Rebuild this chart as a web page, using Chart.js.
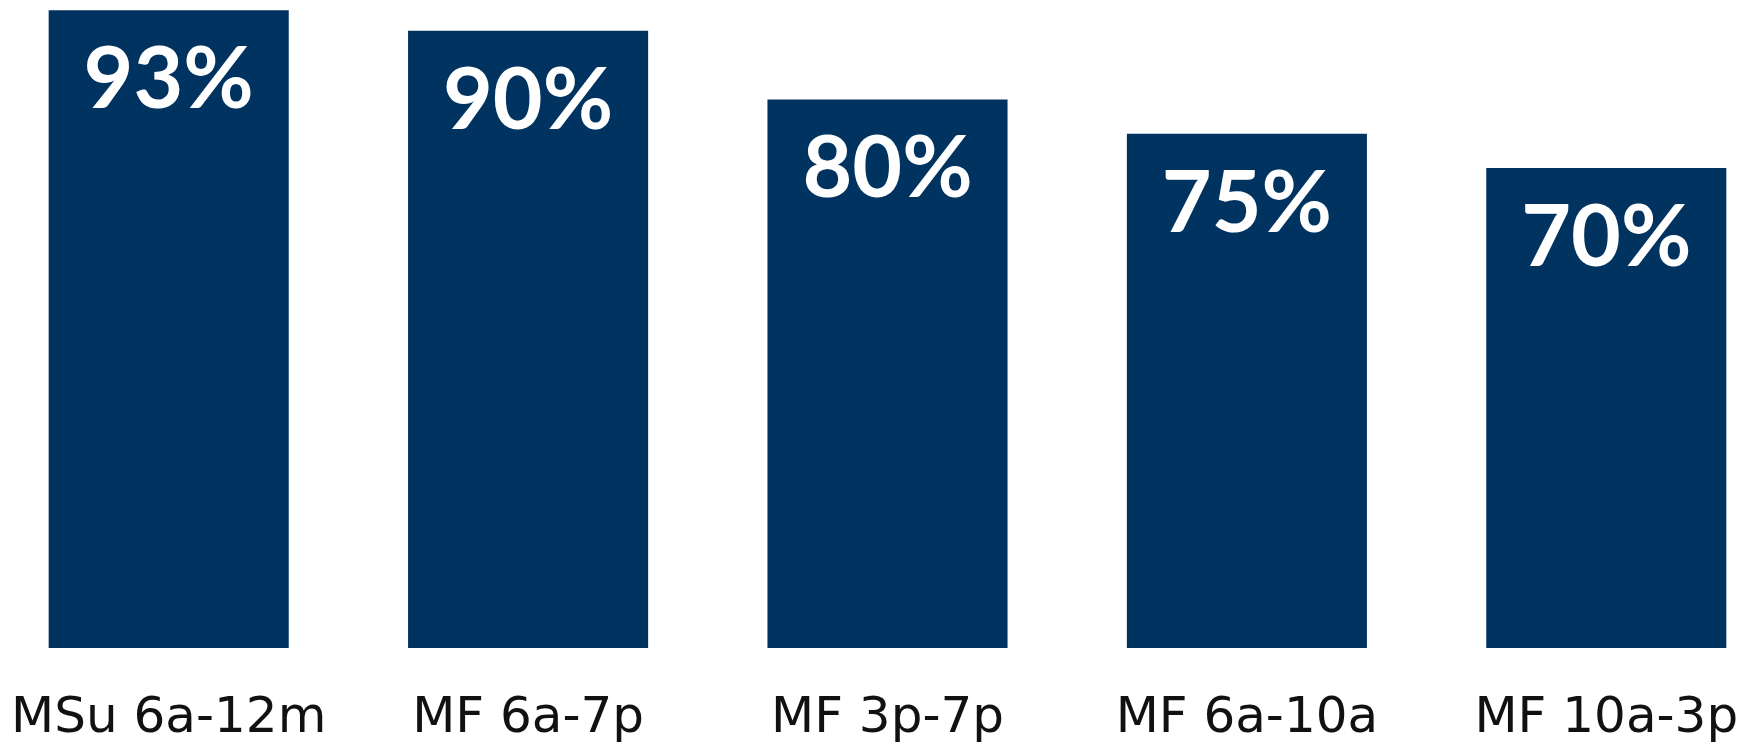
<!DOCTYPE html>
<html>
<head>
    <script src="https://cdn.jsdelivr.net/npm/chart.js"></script>
    <title>Share by time slot</title>
    <style>
        html, body { margin: 0; padding: 0; background: #ffffff; overflow: hidden; }
        body { width: 1744px; height: 744px; position: relative; }
        #wrap { position: absolute; left: -11px; top: 0; width: 1797px; height: 790px; }
    </style>
</head>
<body>
    <div id="wrap">
        <canvas id="slotChart"></canvas>
    </div>

    <script>
        const slotLabels = ['MSu 6a-12m', 'MF 6a-7p', 'MF 3p-7p', 'MF 6a-10a', 'MF 10a-3p'];
        const slotValues = [93, 90, 80, 75, 70];

        const barColor = '#00335F';

        // white percent text inside the top of each bar
        const valueLabels = {
            id: 'valueLabels',
            afterDatasetsDraw(chart) {
                const ctx = chart.ctx;
                const meta = chart.getDatasetMeta(0);
                ctx.save();
                ctx.fillStyle = '#ffffff';
                ctx.font = 'bold 86px Lato, "DejaVu Sans", sans-serif';
                ctx.textAlign = 'center';
                ctx.textBaseline = 'alphabetic';
                meta.data.forEach((bar, i) => {
                    ctx.fillText(slotValues[i] + '%', bar.x, bar.y + 98);
                });
                ctx.restore();
            }
        };

        const ctx = document.getElementById('slotChart').getContext('2d');
        const chart = new Chart(ctx, {
            type: 'bar',
            data: {
                labels: slotLabels,
                datasets: [{
                    data: slotValues,
                    backgroundColor: barColor,
                    borderWidth: 0,
                    categoryPercentage: 1,
                    barPercentage: 0.668
                }]
            },
            options: {
                responsive: true,
                maintainAspectRatio: false,
                animation: false,
                layout: { padding: 0 },
                plugins: {
                    legend: { display: false },
                    tooltip: { enabled: false }
                },
                scales: {
                    x: {
                        grid: { display: false, drawTicks: false },
                        border: { display: false },
                        ticks: {
                            color: '#111111',
                            // tall line height pushes the labels down without extra side padding
                            font: { family: '"DejaVu Sans", sans-serif', size: 50, lineHeight: 2.84 },
                            padding: 0,
                            maxRotation: 0,
                            autoSkip: false
                        }
                    },
                    y: {
                        display: false,
                        min: 0,
                        max: 94.5
                    }
                }
            },
            plugins: [valueLabels]
        });
    </script>
</body>
</html>
